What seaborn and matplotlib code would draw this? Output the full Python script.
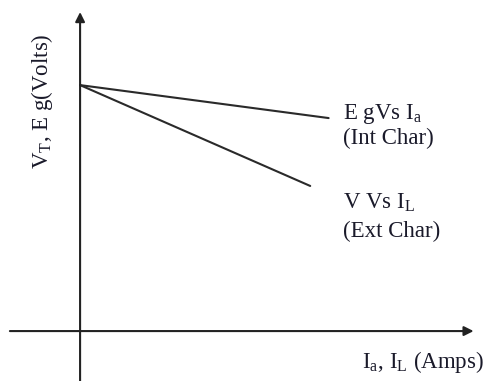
import pandas as pd
import seaborn as sns
import matplotlib.pyplot as plt

# characteristic lines (arbitrary units)
current_int = [0, 10.8]
eg_volts = [100, 86.6]
current_ext = [0, 10.0]
v_volts = [100, 59.0]

sns.set_style("white")
plt.rcParams['font.family'] = ['Liberation Serif', 'DejaVu Serif']
plt.rcParams['mathtext.fontset'] = 'custom'
plt.rcParams['mathtext.rm'] = 'Liberation Serif'

df = pd.concat([
    pd.DataFrame({'I': current_int, 'V': eg_volts, 'curve': 'int'}),
    pd.DataFrame({'I': current_ext, 'V': v_volts, 'curve': 'ext'}),
])

fig = plt.figure(figsize=(4.92, 3.81), dpi=100)
ax = fig.add_axes([0, 0, 1, 1])
sns.lineplot(data=df, x='I', y='V', units='curve', estimator=None,
             color='#2a2a2a', lw=1.5, ax=ax, legend=False)

ax.set_xlim(-3.48, 17.9)
ax.set_ylim(-20.3, 134.6)
for s in ax.spines.values():
    s.set_visible(False)
ax.set_xticks([])
ax.set_yticks([])
ax.set_xlabel('')
ax.set_ylabel('')

# axes drawn as arrows
arrow = dict(arrowstyle='-|>', color='#222222', lw=1.5, mutation_scale=14,
             shrinkA=0, shrinkB=0)
ax.annotate('', xy=(17.1, 0), xytext=(-3.05, 0), arrowprops=arrow)
ax.annotate('', xy=(0, 129.7), xytext=(0, -21), arrowprops=arrow)

fs = 16.5
tc = '#1a1a2a'
ax.text(343 / 492, 1 - 119 / 381, r'E gVs I$_\mathrm{a}$', transform=ax.transAxes,
        fontsize=fs, color=tc, va='baseline')
ax.text(343 / 492, 1 - 144 / 381, '(Int Char)', transform=ax.transAxes,
        fontsize=fs, color=tc, va='baseline')
ax.text(343 / 492, 1 - 208 / 381, r'V Vs I$_\mathrm{L}$', transform=ax.transAxes,
        fontsize=fs, color=tc, va='baseline')
ax.text(343 / 492, 1 - 237 / 381, '(Ext Char)', transform=ax.transAxes,
        fontsize=fs, color=tc, va='baseline')
ax.text(362 / 492, 1 - 368 / 381, r'I$_\mathrm{a}$, I$_\mathrm{L}$ (Amps)',
        transform=ax.transAxes, fontsize=fs, color=tc, va='baseline')
ax.text(42 / 492, 1 - 101 / 381, r'V$_\mathrm{T}$, E g(Volts)', transform=ax.transAxes,
        fontsize=fs, color=tc, rotation=90, ha='center', va='center')

fig.savefig('out.png', dpi=100)
